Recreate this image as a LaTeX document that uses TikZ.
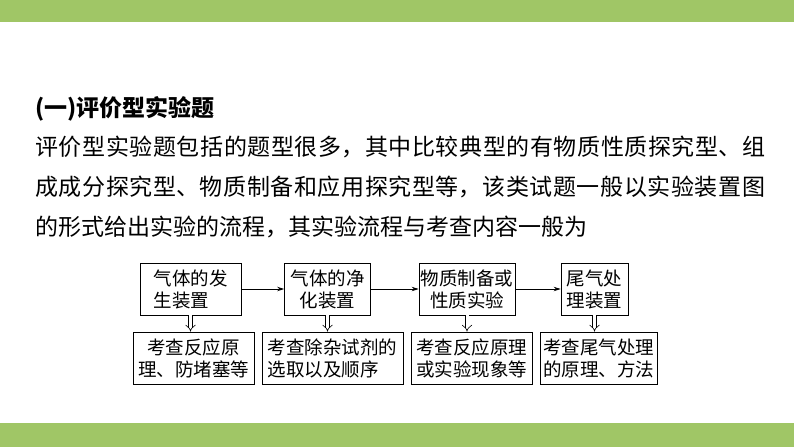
\documentclass[tikz,border=0pt]{standalone}
\usepackage{fontspec}
\setmainfont{Noto Sans CJK SC}
\usetikzlibrary{arrows.meta}
\definecolor{band}{RGB}{160,198,102}
\XeTeXlinebreaklocale "zh"
\XeTeXlinebreakskip=0pt plus 2pt

\begin{document}
\begin{tikzpicture}[x=1pt,y=-1pt,
    box/.style={draw,line width=0.8pt,inner sep=0pt,minimum height=52pt,
        font=\fontsize{18.5}{22}\selectfont},
    flow/.style={line width=0.8pt,-{Stealth[length=7pt,width=4.5pt]}},
    down/.style={double,double distance=3pt,line width=0.6pt,-{Implies}}]
    \useasboundingbox (0,0) rectangle (794,447);
    \fill[band] (0,0) rectangle (794,22);
    \fill[band] (0,423) rectangle (794,447);
    \node[anchor=base west,inner sep=0pt,font=\fontsize{23}{40}\selectfont\bfseries] (T) at (35,116) {(一)评价型实验题};
    \node[anchor=north west,inner sep=0pt,text width=730pt,align=justify,
        font=\fontsize{23}{40}\selectfont] (P) at (35,136)
        {\noindent 评价型实验题包括的题型很多，其中比较典型的有物质性质探究型、组\linebreak
        成成分探究型、物质制备和应用探究型等，该类试题一般以实验装置图\linebreak
        的形式给出实验的流程，其实验流程与考查内容一般为};
    % 流程
    \node[box,minimum width=101pt,align=left] (A) at (190.5,289) {气体的发\\生装置};
    \node[box,minimum width=86pt,align=center] (B) at (327.5,289) {气体的净\\化装置};
    \node[box,minimum width=96pt,align=center] (C) at (467,289) {物质制备或\\性质实验};
    \node[box,minimum width=67pt,align=center] (D) at (594.5,289) {尾气处\\理装置};
    \node[box,minimum width=121pt,align=center] (E) at (193.5,358) {考查反应原\\理、防堵塞等};
    \node[box,minimum width=141pt,align=left] (F) at (332.5,358) {考查除杂试剂的\\选取以及顺序};
    \node[box,minimum width=121pt,align=center] (G) at (471.5,358) {考查反应原理\\或实验现象等};
    \node[box,minimum width=117pt,align=center] (H) at (598.5,358) {考查尾气处理\\的原理、方法};
    \draw[flow] (A) -- (B);
    \draw[flow] (B) -- (C);
    \draw[flow] (C) -- (D);
    \draw[down] (A) -- (A |- E.north);
    \draw[down] (B) -- (B |- F.north);
    \draw[down] (C) -- (C |- G.north);
    \draw[down] (D) -- (D |- H.north);
\end{tikzpicture}
\end{document}
